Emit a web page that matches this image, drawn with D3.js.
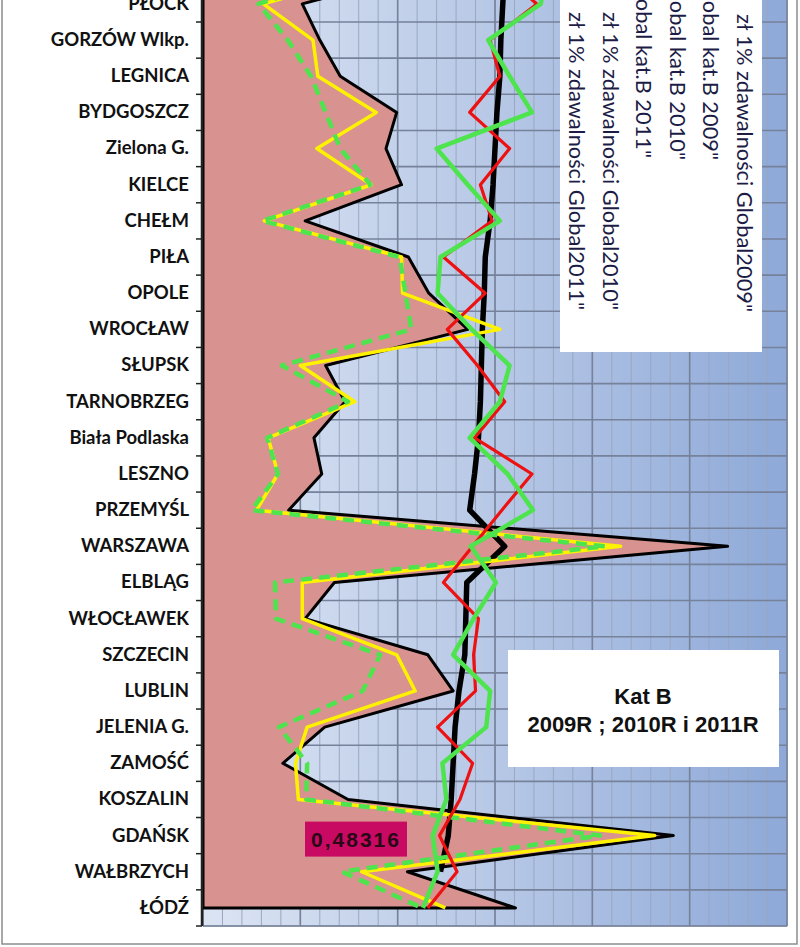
<!DOCTYPE html>
<html><head><meta charset="utf-8">
<script src="https://cdn.jsdelivr.net/npm/d3@7"></script>
<style>body{margin:0;background:#fff}svg{display:block}</style>
</head><body><svg id="c" width="800" height="947"></svg>
<script>
// ---- data (top to bottom; first entry lies above the visible crop) ----
const categories = ["", "PŁOCK", "GORZÓW Wlkp.", "LEGNICA", "BYDGOSZCZ", "Zielona G.", "KIELCE", "CHEŁM", "PIŁA", "OPOLE", "WROCŁAW", "SŁUPSK", "TARNOBRZEG", "Biała Podlaska", "LESZNO", "PRZEMYŚL", "WARSZAWA", "ELBLĄG", "WŁOCŁAWEK", "SZCZECIN", "LUBLIN", "JELENIA G.", "ZAMOŚĆ", "KOSZALIN", "GDAŃSK", "WAŁBRZYCH", "ŁÓDŹ"];
// area series (pink, black border)
const katB2009 = [0.240, 0.102, 0.120, 0.141, 0.199, 0.188, 0.204, 0.105, 0.211, 0.232, 0.272, 0.126, 0.146, 0.114, 0.122, 0.088, 0.539, 0.135, 0.105, 0.231, 0.257, 0.125, 0.082, 0.149, 0.48316, 0.210, 0.321];
// yellow
const katB2010 = [0.192, 0.062, 0.113, 0.118, 0.178, 0.117, 0.173, 0.063, 0.204, 0.205, 0.305, 0.100, 0.156, 0.067, 0.077, 0.055, 0.429, 0.102, 0.102, 0.199, 0.218, 0.107, 0.095, 0.098, 0.464, 0.163, 0.249];
// green dashed
const katB2011 = [0.172, 0.057, 0.087, 0.111, 0.126, 0.141, 0.172, 0.061, 0.202, 0.208, 0.214, 0.081, 0.149, 0.066, 0.077, 0.050, 0.413, 0.074, 0.075, 0.182, 0.164, 0.078, 0.107, 0.106, 0.408, 0.143, 0.225];
// black thick
const global2009 = [0.310, 0.308, 0.306, 0.305, 0.302, 0.300, 0.298, 0.295, 0.290, 0.289, 0.287, 0.286, 0.285, 0.283, 0.279, 0.274, 0.310, 0.271, 0.270, 0.269, 0.263, 0.259, 0.257, 0.255, 0.252, 0.244, null];
// red
const global2010 = [0.300, 0.343, 0.295, 0.305, 0.274, 0.315, 0.285, 0.297, 0.247, 0.290, 0.251, 0.282, 0.310, 0.279, 0.338, 0.307, 0.277, 0.247, 0.283, 0.278, 0.280, 0.241, 0.277, 0.264, 0.243, 0.261, 0.231];
// green solid
const global2011 = [0.354, 0.347, 0.293, 0.315, 0.338, 0.240, 0.272, 0.305, 0.244, 0.241, 0.276, 0.315, 0.305, 0.274, 0.313, 0.339, 0.275, 0.301, 0.278, 0.257, 0.295, 0.291, 0.246, 0.250, 0.236, 0.241, 0.226];
const majorTicks = [0, 0.1, 0.2, 0.3, 0.4, 0.5, 0.6];
const minorTicks = d3.range(0, 31).map(i => i * 0.02);
const legendLabels = ["zł 1% zdawalności Global2009\"", "Global kat.B 2009\"", "Global kat.B 2010\"", "Global kat.B 2011\"", "zł 1% zdawalności Global2010\"", "zł 1% zdawalności Global2011\""];
const titleLines = ["Kat B", "2009R ; 2010R i 2011R"];
const labelCategory = "GDAŃSK";

// ---- layout ----
const svg = d3.select("#c");
const plotL = 203, plotR = 787, plotB = 926, step = 36.16;
const x = d3.scaleLinear().domain([0, 0.6]).range([plotL, plotR]);
const y = d3.scaleBand().domain(categories).range([plotB - categories.length * step, plotB]).padding(0);
const yc = c => y(c) + y.bandwidth() / 2;
const plotT = y.range()[0];

// outer chart frame
svg.append("rect").attr("x", 2).attr("y", -20).attr("width", 795).attr("height", 964)
  .attr("fill", "#fff").attr("stroke", "#8c8c8c").attr("stroke-width", 1.5);

const defs = svg.append("defs");
const grad = defs.append("linearGradient").attr("id", "bg").attr("x1", "0").attr("x2", "1").attr("y1", "0").attr("y2", "0");
grad.append("stop").attr("offset", "0").attr("stop-color", "#dbe4f3");
grad.append("stop").attr("offset", "0.5").attr("stop-color", "#b7c8e6");
grad.append("stop").attr("offset", "1").attr("stop-color", "#8ea9d8");

svg.append("rect").attr("x", plotL).attr("y", plotT).attr("width", plotR - plotL).attr("height", plotB - plotT)
  .attr("fill", "url(#bg)").attr("stroke", "#8a94a6").attr("stroke-width", 1);

// minor vertical gridlines
svg.append("g").selectAll("line").data(minorTicks).join("line")
  .attr("x1", d => x(d)).attr("x2", d => x(d)).attr("y1", plotT).attr("y2", plotB)
  .attr("stroke", "#9aa7c0").attr("stroke-width", 1);
// major vertical gridlines
svg.append("g").selectAll("line").data(majorTicks).join("line")
  .attr("x1", d => x(d)).attr("x2", d => x(d)).attr("y1", plotT).attr("y2", plotB)
  .attr("stroke", "#76819a").attr("stroke-width", 1.6);
// horizontal gridlines at category boundaries
const bounds = categories.map(c => y(c)).concat([plotB]);
svg.append("g").selectAll("line").data(bounds).join("line")
  .attr("x1", plotL).attr("x2", plotR).attr("y1", d => d).attr("y2", d => d)
  .attr("stroke", "#76819a").attr("stroke-width", 1.6);

// area series
const area = d3.area().y((d, i) => yc(categories[i])).x0(x(0)).x1(d => x(d));
svg.append("path").datum(katB2009).attr("d", area)
  .attr("fill", "#d8928f").attr("stroke", "#000").attr("stroke-width", 3).attr("stroke-linejoin", "round");

const line = d3.line().defined(d => d != null).y((d, i) => yc(categories[i])).x(d => x(d));
const lines = [
  { data: global2009, color: "#000", w: 5.5, dash: null },
  { data: katB2010, color: "#fff200", w: 3.5, dash: null },
  { data: katB2011, color: "#4ee44e", w: 4.5, dash: "11,7" },
  { data: global2010, color: "#ee1111", w: 3.2, dash: null },
  { data: global2011, color: "#4ee44e", w: 4.5, dash: null }
];
lines.forEach(s => {
  svg.append("path").datum(s.data).attr("d", line).attr("fill", "none")
    .attr("stroke", s.color).attr("stroke-width", s.w).attr("stroke-linejoin", "round")
    .attr("stroke-dasharray", s.dash);
});

// category axis
const axis = svg.append("g").attr("transform", `translate(${plotL - 1},0)`)
  .call(d3.axisLeft(y).tickSize(0).tickPadding(13));
axis.select(".domain").remove();
axis.selectAll("text").attr("font-family", "Lato, sans-serif").attr("font-weight", "bold")
  .attr("font-size", 18.5).attr("fill", "#111");
svg.append("line").attr("x1", plotL - 1).attr("x2", plotL - 1).attr("y1", plotT).attr("y2", plotB)
  .attr("stroke", "#222").attr("stroke-width", 2.5);
svg.append("g").selectAll("line").data(bounds).join("line")
  .attr("x1", plotL - 7).attr("x2", plotL - 1).attr("y1", d => d).attr("y2", d => d)
  .attr("stroke", "#222").attr("stroke-width", 1.5);

// data label
const li = categories.indexOf(labelCategory);
const lblY = yc(labelCategory);
svg.append("rect").attr("x", 305).attr("y", lblY - 14).attr("width", 102).attr("height", 35)
  .attr("fill", "#c80a62");
svg.append("text").attr("x", 356).attr("y", lblY + 11).attr("text-anchor", "middle")
  .attr("font-family", "Liberation Sans, Arial, sans-serif").attr("font-weight", "bold")
  .attr("font-size", 21).attr("letter-spacing", 2).attr("fill", "#2a0716")
  .text(d3.format(".5f")(katB2009[li]).replace(".", ","));

// title box
svg.append("rect").attr("x", 508).attr("y", 650).attr("width", 271).attr("height", 117).attr("fill", "#fff");
svg.append("g").selectAll("text").data(titleLines).join("text")
  .attr("x", 643).attr("y", (d, i) => 704 + i * 28).attr("text-anchor", "middle")
  .attr("font-family", "Liberation Sans, Arial, sans-serif").attr("font-weight", "bold")
  .attr("font-size", 22).attr("fill", "#111").text(d => d);

// legend (rotated, cropped at top)
svg.append("rect").attr("x", 560).attr("y", -20).attr("width", 202).attr("height", 372).attr("fill", "#fff");
const legEnd = [312, 160, 160, 158, 310, 310];
svg.append("g").selectAll("text").data(legendLabels).join("text")
  .attr("transform", (d, i) => `translate(${737 - i * 33.6},${legEnd[i]}) rotate(90)`)
  .attr("text-anchor", "end")
  .attr("font-family", "Lato, sans-serif").attr("font-size", 21.8).attr("fill", "#1c1c46")
  .text(d => d);
</script>
</body></html>
